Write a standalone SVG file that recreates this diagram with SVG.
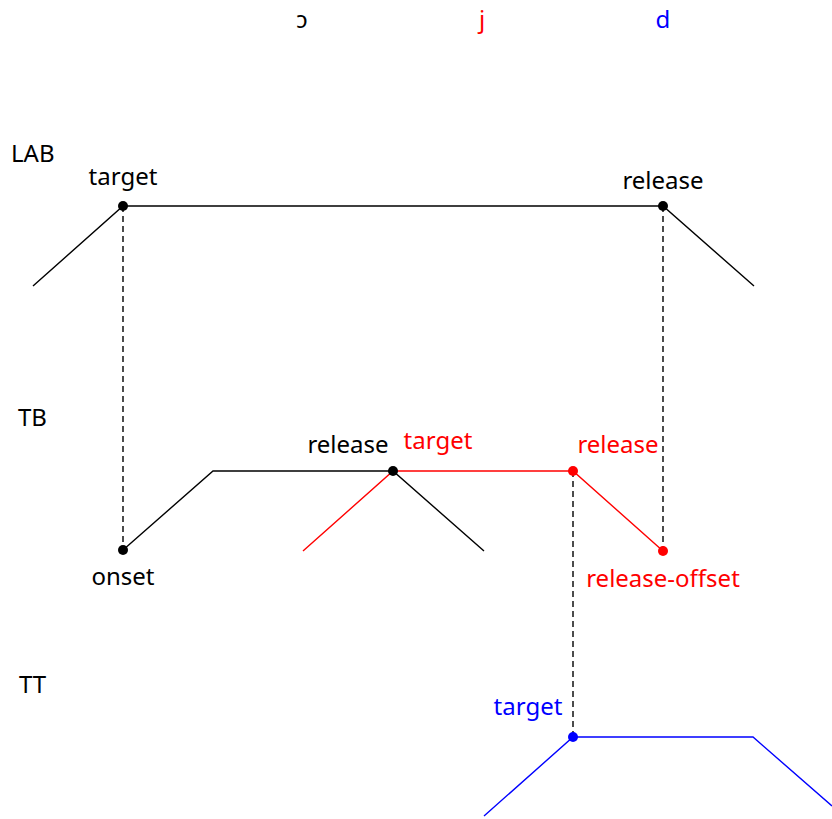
<svg xmlns="http://www.w3.org/2000/svg" width="832" height="819" viewBox="0 0 832 819">
<style>
text{font-family:"Noto Sans","Open Sans",sans-serif;font-size:24px}
.k{fill:#000}.r{fill:#ff0000}.b{fill:#0000ff}
.ln{fill:none;stroke-width:1.4}
.dash{stroke:#111;stroke-width:1.5;stroke-dasharray:6,4;fill:none}
</style>
<rect width="832" height="819" fill="#fff"/>
<g id="headers">
<text x="302" y="28" text-anchor="middle" class="k">ɔ</text>
<text x="482" y="28" text-anchor="middle" class="r">j</text>
<text x="663" y="28" text-anchor="middle" class="b">d</text>
</g>
<g id="tiers">
<text x="11" y="162">LAB</text>
<text x="18" y="426">TB</text>
<text x="19" y="693">TT</text>
</g>
<g id="connectors">
<path class="dash" d="M123,206V550"/>
<path class="dash" d="M663,206V551"/>
<path class="dash" d="M573,471V737"/>
<path class="ln" stroke="#000" d="M33,286L123,206H663L754,286"/>
<path class="ln" stroke="#000" d="M123,550L213,471H393L484,551"/>
<path class="ln" stroke="#ff0000" d="M303,551L393,471H573L663,551"/>
<path class="ln" stroke="#0000ff" d="M484,816L573,737H753L832,806"/>
</g>
<g id="lab-target"><circle cx="123" cy="206" r="5" fill="#000"/><text x="123" y="185" text-anchor="middle">target</text></g>
<g id="lab-release"><circle cx="663" cy="206" r="5" fill="#000"/><text x="663" y="189" text-anchor="middle">release</text></g>
<g id="tb-onset"><circle cx="123" cy="550" r="5" fill="#000"/><text x="123" y="585" text-anchor="middle">onset</text></g>
<g id="tb-release"><circle cx="393" cy="471" r="5" fill="#000"/><text x="348" y="453" text-anchor="middle">release</text></g>
<g id="j-target"><text x="438" y="449" text-anchor="middle" class="r">target</text></g>
<g id="j-release"><circle cx="573" cy="471" r="5" fill="#ff0000"/><text x="618" y="453" text-anchor="middle" class="r">release</text></g>
<g id="j-release-offset"><circle cx="663" cy="551" r="5" fill="#ff0000"/><text x="663" y="587" text-anchor="middle" class="r">release-offset</text></g>
<g id="tt-target"><circle cx="573" cy="737" r="5" fill="#0000ff"/><text x="528" y="715" text-anchor="middle" class="b">target</text></g>
</svg>
